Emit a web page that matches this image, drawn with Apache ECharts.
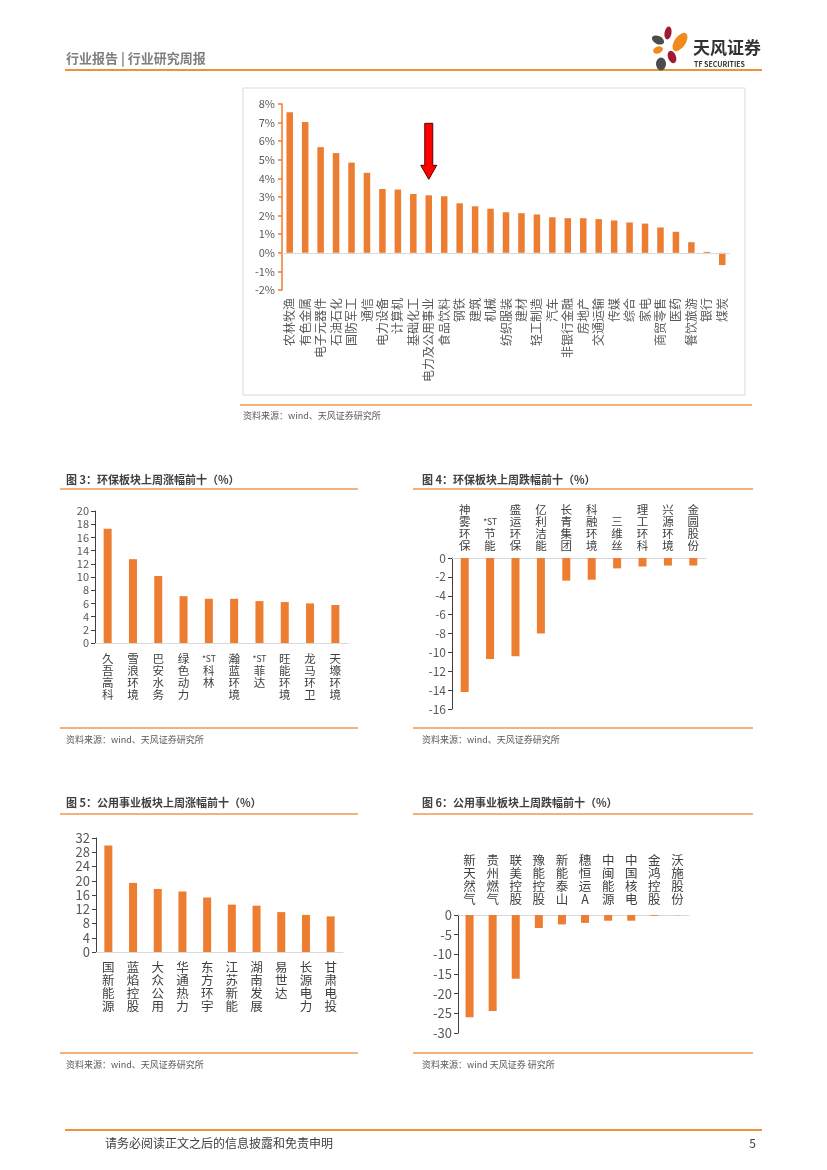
<!DOCTYPE html>
<html><head><meta charset="utf-8">
<script src="https://cdn.jsdelivr.net/npm/echarts@6/dist/echarts.min.js"></script>
<style>html,body{margin:0;padding:0;background:#fff}#c{width:827px;height:1170px}</style>
</head><body><div id="c"></div>
<script>
// ---------- DATA ----------
const industryNames = ['农林牧渔','有色金属','电子元器件','石油石化','国防军工','通信','电力设备','计算机','基础化工','电力及公用事业','食品饮料','钢铁','建筑','机械','纺织服装','建材','轻工制造','汽车','非银行金融','房地产','交通运输','传媒','综合','家电','商贸零售','医药','餐饮旅游','银行','煤炭'];
const industryReturns = [7.55,7.03,5.68,5.36,4.85,4.30,3.43,3.40,3.16,3.09,3.04,2.66,2.50,2.37,2.18,2.13,2.06,1.91,1.86,1.86,1.81,1.74,1.63,1.57,1.36,1.13,0.57,0.05,-0.66];
const industryTicks = [-2,-1,0,1,2,3,4,5,6,7,8];
const arrowCategory = '电力及公用事业';

const envUpNames = ['久吾高科','雪浪环境','巴安水务','绿色动力','*ST科林','瀚蓝环境','*ST菲达','旺能环境','龙马环卫','天壕环境'];
const envUpValues = [17.3,12.7,10.15,7.1,6.7,6.7,6.35,6.2,6.0,5.75];

const envDownNames = ['神雾环保','*ST节能','盛运环保','亿利洁能','长青集团','科融环境','三维丝','理工环科','兴源环境','金圆股份'];
const envDownValues = [-14.2,-10.7,-10.4,-8.0,-2.4,-2.3,-1.1,-0.9,-0.8,-0.8];

const utilUpNames = ['国新能源','蓝焰控股','大众公用','华通热力','东方环宇','江苏新能','湖南发展','易世达','长源电力','甘肃电投'];
const utilUpValues = [29.9,19.4,17.7,17.0,15.3,13.3,13.0,11.2,10.4,10.0];

const utilDownNames = ['新天然气','贵州燃气','联美控股','豫能控股','新能泰山','穗恒运A','中闽能源','中国核电','金鸿控股','沃施股份'];
const utilDownValues = [-26.0,-24.4,-16.2,-3.3,-2.4,-2.0,-1.45,-1.45,-0.2,-0.05];

const chartTitles = ['图 3：环保板块上周涨幅前十（%）','图 4：环保板块上周跌幅前十（%）','图 5：公用事业板块上周涨幅前十（%）','图 6：公用事业板块上周跌幅前十（%）'];
const sourceTexts = ['资料来源：wind、天风证券研究所','资料来源：wind、天风证券研究所','资料来源：wind、天风证券研究所','资料来源：wind、天风证券研究所','资料来源：wind 天风证券 研究所'];
const headerText = '行业报告 | 行业研究周报';
const footerText = '请务必阅读正文之后的信息披露和免责申明';
const pageNumber = '5';

// ---------- STYLE ----------
const FONT = '"Noto Sans CJK SC","Noto Sans",sans-serif';
const BAR = '#ED7D31';
const LINE = '#EE9A4D';
const AXIS_DARK = '#404040';
const LABEL = '#595959';

function stack(v){
  const parts = v.match(/\*ST|./g);
  return parts.map(p => p === '*ST' ? '{s|*ST}' : '{c|' + p + '}').join('\n');
}

const chart = echarts.init(document.getElementById('c'), null, {renderer:'canvas'});

const grids = [
  {left:282, top:104, width:448, height:186},
  {left:95, top:511, width:253, height:132},
  {left:452, top:558, width:254, height:151},
  {left:96, top:838, width:247, height:114},
  {left:458, top:915, width:231, height:118}
];

function stackedX(gi, names, pos, fontSize, lineH, margin){
  return {
    type:'category', gridIndex:gi, data:names, position:pos,
    axisLine:{show:true, onZero:false, lineStyle:{color:'#D9D9D9', width:1}},
    axisTick:{show:false},
    axisLabel:{interval:0, margin:margin, color:'#404040', fontFamily:FONT, fontSize:fontSize, lineHeight:lineH,
      formatter: stack,
      rich:{
        c:{fontSize:fontSize, fontFamily:FONT, color:'#404040', lineHeight:lineH},
        s:{fontSize:fontSize-3, fontFamily:FONT, color:'#404040', lineHeight:lineH}
      }}
  };
}
function valueY(gi, min, max, interval, fontSize){
  return {
    type:'value', gridIndex:gi, min:min, max:max, interval:interval,
    axisLine:{show:true, lineStyle:{color:AXIS_DARK, width:1}},
    axisTick:{show:true, inside:false, length:4, lineStyle:{color:AXIS_DARK}},
    splitLine:{show:false},
    axisLabel:{margin:6, color:LABEL, fontFamily:FONT, fontSize:fontSize}
  };
}

const option = {
  animation:false,
  backgroundColor:'#fff',
  grid: grids,
  xAxis: [
    {
      type:'category', gridIndex:0, data:industryNames, position:'bottom',
      axisLine:{show:false}, axisTick:{show:false},
      axisLabel:{interval:0, rotate:90, margin:8, color:LABEL, fontFamily:FONT, fontSize:12}
    },
    stackedX(1, envUpNames, 'bottom', 11.5, 12, 10),
    stackedX(2, envDownNames, 'top', 11.5, 12, 6),
    stackedX(3, utilUpNames, 'bottom', 12.5, 13, 9),
    stackedX(4, utilDownNames, 'top', 12.5, 13, 9)
  ],
  yAxis: [
    {
      type:'value', gridIndex:0, min:industryTicks[0], max:industryTicks[industryTicks.length-1], interval:1,
      axisLine:{show:true, lineStyle:{color:BAR, width:1.5}},
      axisTick:{show:true, length:4, lineStyle:{color:BAR, width:1.5}},
      splitLine:{show:false},
      axisLabel:{margin:7, color:LABEL, fontFamily:FONT, fontSize:11, formatter: v => v + '%'}
    },
    valueY(1, 0, 20, 2, 11),
    valueY(2, -16, 0, 2, 12),
    valueY(3, 0, 32, 4, 13),
    valueY(4, -30, 0, 5, 13)
  ],
  series: [
    {type:'bar', xAxisIndex:0, yAxisIndex:0, data:industryReturns, barWidth:6.5, itemStyle:{color:BAR},
      markLine:{silent:true, symbol:'none', label:{show:false}, lineStyle:{color:'#D9D9D9', type:'solid', width:1}, data:[{yAxis:0}]}},
    {type:'bar', xAxisIndex:1, yAxisIndex:1, data:envUpValues, barWidth:8, itemStyle:{color:BAR}},
    {type:'bar', xAxisIndex:2, yAxisIndex:2, data:envDownValues, barWidth:8, itemStyle:{color:BAR}},
    {type:'bar', xAxisIndex:3, yAxisIndex:3, data:utilUpValues, barWidth:8, itemStyle:{color:BAR}},
    {type:'bar', xAxisIndex:4, yAxisIndex:4, data:utilDownValues, barWidth:8, itemStyle:{color:BAR}}
  ]
};
chart.setOption(option);

// ---------- Page decorations ----------
function txt(text, x, y, size, color, weight, align){
  return {type:'text', silent:true, style:{text:text, x:x, y:y, fill:color, font:(weight||'normal')+' '+size+'px '+FONT,
    textAlign:align||'left', textVerticalAlign:'middle', verticalAlign:'middle'}};
}
function hline(x1, x2, y, color, w){
  return {type:'line', silent:true, shape:{x1:x1, y1:y, x2:x2, y2:y}, style:{stroke:color, lineWidth:w||1.5}};
}
function petal(cx, cy, rx, ry, rotDeg, color){
  return {type:'circle', silent:true, x:cx, y:cy, shape:{cx:0, cy:0, r:10}, scaleX:rx/10, scaleY:ry/10,
    rotation: rotDeg*Math.PI/180, style:{fill:color}};
}

const arrowX = chart.convertToPixel({xAxisIndex:0}, arrowCategory);
const arrowTipY = chart.convertToPixel({yAxisIndex:0}, industryReturns[industryNames.indexOf(arrowCategory)]) - 16;
const aTop = arrowTipY - 56, aHead = arrowTipY - 14;

const graphics = [
  // header
  txt(headerText, 66, 58, 13, '#7F7F7F', 'bold'),
  hline(65, 762, 70, '#E8953A', 2),
  petal(668, 33, 3.5, 6.5, -10, '#9E1B32'),
  petal(680, 42, 5.5, 10.5, -35, '#F08A1C'),
  petal(658, 40, 6.5, 4, -25, '#4D4D4D'),
  petal(658, 50, 5, 3.5, 20, '#F08A1C'),
  petal(672, 57, 4, 6.5, 20, '#9E1B32'),
  petal(661, 64, 5, 6.5, 0, '#4D4D4D'),
  txt('天风证券', 693, 48, 17, '#333333', 'bold'),
  txt('TF SECURITIES', 694, 64, 7, '#333333', 'bold'),
  // chart 1 frame
  {type:'rect', silent:true, shape:{x:243, y:88, width:502, height:307}, style:{fill:'none', stroke:'#D9D9D9', lineWidth:1}},
  hline(240, 752, 405, LINE, 1.5),
  txt(sourceTexts[0], 243, 416, 9, LABEL),
  // arrow
  {type:'polygon', silent:true, shape:{points:[[arrowX-4,aTop],[arrowX+4,aTop],[arrowX+4,aHead],[arrowX+8,aHead],[arrowX,arrowTipY],[arrowX-8,aHead],[arrowX-4,aHead]]},
    style:{fill:'#FF0000', stroke:'#5A0000', lineWidth:1}},
  // chart 3
  txt(chartTitles[0], 66, 480, 11, '#404040', 'bold'),
  hline(60, 358, 489, LINE, 1.5),
  hline(60, 358, 728, LINE, 1.5),
  txt(sourceTexts[1], 66, 740, 9, LABEL),
  // chart 4
  txt(chartTitles[1], 422, 480, 11, '#404040', 'bold'),
  hline(413, 753, 489, LINE, 1.5),
  hline(413, 753, 728, LINE, 1.5),
  txt(sourceTexts[2], 422, 740, 9, LABEL),
  // chart 5
  txt(chartTitles[2], 66, 803, 11, '#404040', 'bold'),
  hline(60, 358, 814, LINE, 1.5),
  hline(60, 358, 1053, LINE, 1.5),
  txt(sourceTexts[3], 66, 1065, 9, LABEL),
  // chart 6
  txt(chartTitles[3], 422, 803, 11, '#404040', 'bold'),
  hline(413, 753, 814, LINE, 1.5),
  hline(413, 753, 1053, LINE, 1.5),
  txt(sourceTexts[4], 422, 1065, 9, LABEL),
  // footer
  hline(65, 762, 1130, '#E8953A', 2),
  txt(footerText, 105, 1143, 12, '#404040'),
  txt(pageNumber, 756, 1143, 12, '#404040', 'normal', 'right')
];
chart.setOption({graphic: graphics});
</script>
</body></html>
